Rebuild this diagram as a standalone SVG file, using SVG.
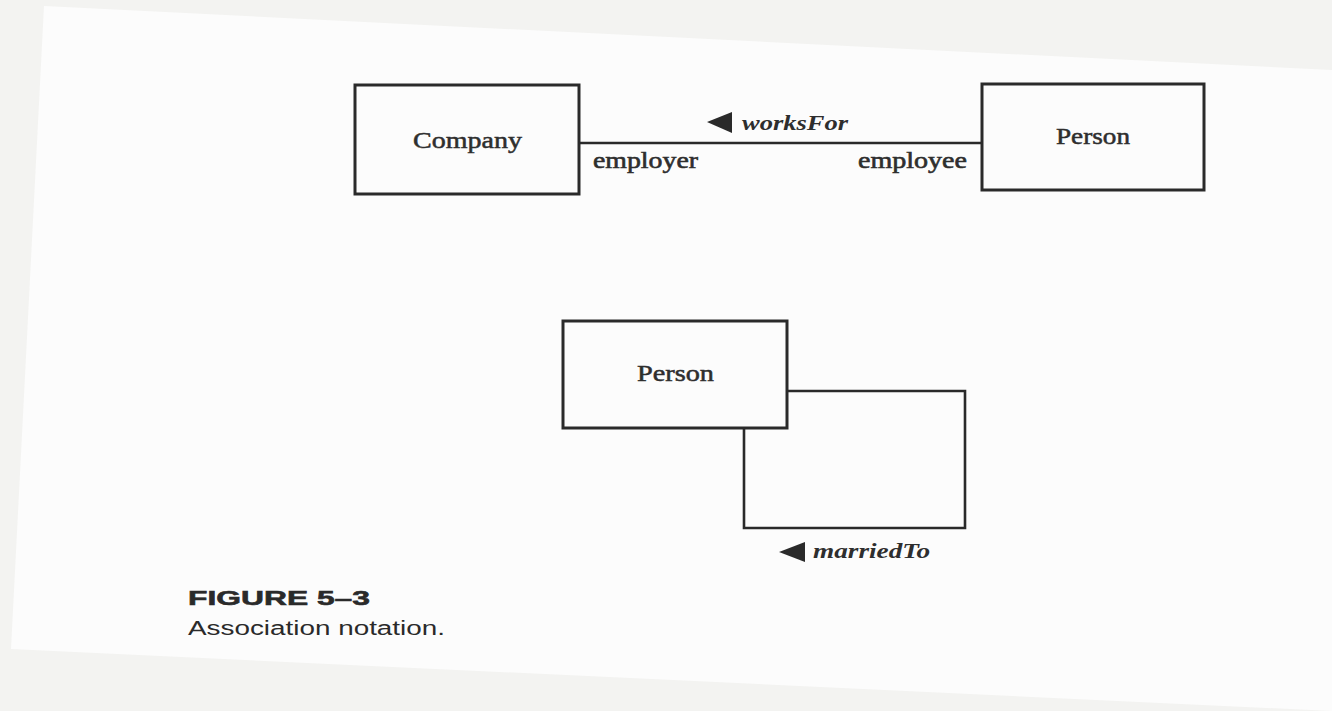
<svg xmlns="http://www.w3.org/2000/svg" width="1332" height="711" viewBox="0 0 1332 711">
  <style>
    .box { fill: none; stroke: #2a2a2a; stroke-width: 3; }
    .wire { fill: none; stroke: #2a2a2a; stroke-width: 2.6; }
    .name { font-family: "Liberation Serif", "Times New Roman", serif; font-size: 23px; fill: #2e2e2e; stroke: #2e2e2e; stroke-width: 0.5; }
    .role { font-family: "Liberation Serif", "Times New Roman", serif; font-size: 23px; fill: #2e2e2e; stroke: #2e2e2e; stroke-width: 0.6; }
    .assoc { font-family: "Liberation Serif", "Times New Roman", serif; font-size: 22px; font-style: italic; font-weight: bold; fill: #2e2e2e; }
    .tri { fill: #2a2a2a; }
    .cap-title { font-family: "Liberation Sans", Arial, sans-serif; font-size: 21px; font-weight: bold; fill: #2a2a2a; stroke: #2a2a2a; stroke-width: 0.6; }
    .cap-text { font-family: "Liberation Sans", Arial, sans-serif; font-size: 20px; fill: #2a2a2a; }
  </style>

  <!-- background and page sheet -->
  <rect x="0" y="0" width="1332" height="711" fill="#f3f3f1"/>
  <polygon points="44,6 1332,70 1332,711 11,649" fill="#fcfcfc"/>

  <!-- connectors -->
  <g id="connectors">
    <g id="worksFor">
      <line class="wire" x1="579" y1="143" x2="982" y2="143"/>
      <polygon class="tri" points="707,122 732,112 732,133"/>
      <text class="assoc" x="742" y="130" textLength="106" lengthAdjust="spacingAndGlyphs">worksFor</text>
      <text class="role" x="593" y="168" textLength="105" lengthAdjust="spacingAndGlyphs">employer</text>
      <text class="role" x="858" y="168" textLength="109" lengthAdjust="spacingAndGlyphs">employee</text>
    </g>
    <g id="marriedTo">
      <polyline class="wire" points="787,391 965,391 965,528 744,528 744,428"/>
      <polygon class="tri" points="779,552 805,542 805,562"/>
      <text class="assoc" x="813" y="558" textLength="117" lengthAdjust="spacingAndGlyphs">marriedTo</text>
    </g>
  </g>

  <!-- classes -->
  <g id="company">
    <rect class="box" x="355" y="85" width="224" height="109"/>
    <text class="name" x="413" y="148" textLength="109" lengthAdjust="spacingAndGlyphs">Company</text>
  </g>
  <g id="person-top">
    <rect class="box" x="982" y="84" width="222" height="106"/>
    <text class="name" x="1056" y="144" textLength="74" lengthAdjust="spacingAndGlyphs">Person</text>
  </g>
  <g id="person-bottom">
    <rect class="box" x="563" y="321" width="224" height="107"/>
    <text class="name" x="637" y="381" textLength="77" lengthAdjust="spacingAndGlyphs">Person</text>
  </g>

  <!-- caption -->
  <g id="caption">
    <text class="cap-title" x="188" y="605" textLength="182" lengthAdjust="spacingAndGlyphs">FIGURE 5–3</text>
    <text class="cap-text" x="188" y="635" textLength="257" lengthAdjust="spacingAndGlyphs">Association notation.</text>
  </g>
</svg>
